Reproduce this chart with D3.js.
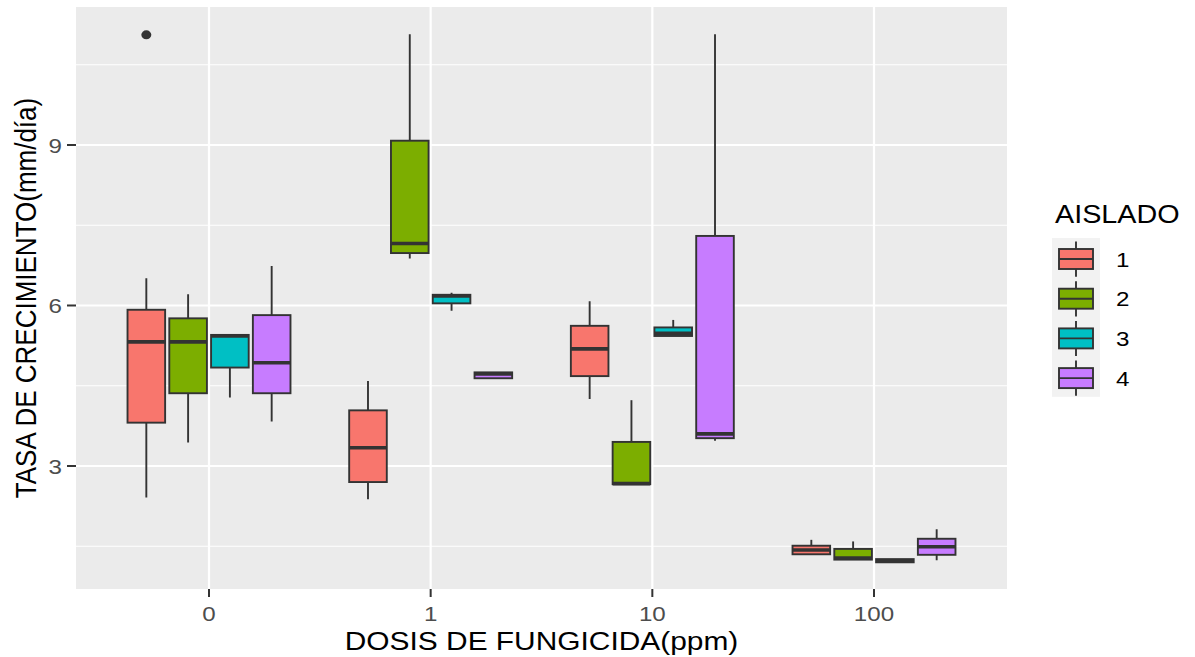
<!DOCTYPE html>
<html>
<head>
<meta charset="utf-8">
<script src="https://cdn.jsdelivr.net/npm/d3@7"></script>
<style>
  body { margin: 0; background: #fff; }
  svg { display: block; font-family: "Liberation Sans", Arial, sans-serif; }
</style>
</head>
<body>
<svg id="chart" width="1195" height="657"></svg>
<script>
// dosis categories and aislado groups
const dosis = ["0", "1", "10", "100"];
const aislados = ["1", "2", "3", "4"];
const colors = ["#F8766D", "#7CAE00", "#00BFC4", "#C77CFF"];

// box stats per dosis: [lower whisker, q1, median, q3, upper whisker]
const aislado1 = [[2.41, 3.81, 5.32, 5.92, 6.51], [2.38, 2.70, 3.34, 4.04, 4.59], [4.25, 4.68, 5.19, 5.62, 6.08], [1.35, 1.35, 1.43, 1.51, 1.62]];
const aislado2 = [[3.44, 4.36, 5.32, 5.76, 6.21], [6.88, 6.98, 7.16, 9.08, 11.07], [2.66, 2.66, 2.67, 3.45, 4.23], [1.25, 1.25, 1.28, 1.45, 1.59]];
const aislado3 = [[4.28, 4.84, 5.43, 5.45, 5.45], [5.90, 6.04, 6.18, 6.20, 6.24], [5.43, 5.43, 5.48, 5.59, 5.73], [1.20, 1.20, 1.22, 1.26, 1.26]];
const aislado4 = [[3.83, 4.36, 4.93, 5.82, 6.74], [4.64, 4.64, 4.72, 4.75, 4.75], [3.47, 3.52, 3.60, 7.30, 11.07], [1.24, 1.34, 1.49, 1.64, 1.82]];
const outliers = [{dosis: "0", aislado: 0, value: 11.06}];

const yTicks = [3, 6, 9];
const yMinor = [1.5, 4.5, 7.5, 10.5];

const series = [aislado1, aislado2, aislado3, aislado4];
const boxes = [];
series.forEach((s, g) => s.forEach((v, i) => boxes.push({dosis: dosis[i], g: g, lo: v[0], q1: v[1], med: v[2], q3: v[3], hi: v[4]})));

const svg = d3.select("#chart");
const panel = {left: 76, right: 1007, top: 7, bottom: 589};
const stretch = 1.15; // horizontal text stretch of the original picture

const x = d3.scalePoint().domain(dosis).range([panel.left, panel.right]).padding(0.6);
const y = d3.scaleLinear().domain([0.701, 11.579]).range([panel.bottom, panel.top]);
const slot = x.step() * 0.1885;
const boxW = slot * 0.9;
const bx = d => x(d.dosis) + (d.g - 1.5) * slot;

// panel background and grid
svg.append("rect")
    .attr("x", panel.left).attr("y", panel.top)
    .attr("width", panel.right - panel.left).attr("height", panel.bottom - panel.top)
    .attr("fill", "#EBEBEB");

const grid = svg.append("g");
grid.selectAll(".minor").data(yMinor).enter().append("line")
    .attr("x1", panel.left).attr("x2", panel.right)
    .attr("y1", d => y(d)).attr("y2", d => y(d))
    .attr("stroke", "#fff").attr("stroke-width", 1.1);
grid.selectAll(".major").data(yTicks).enter().append("line")
    .attr("x1", panel.left).attr("x2", panel.right)
    .attr("y1", d => y(d)).attr("y2", d => y(d))
    .attr("stroke", "#fff").attr("stroke-width", 2.2);
grid.selectAll(".vx").data(dosis).enter().append("line")
    .attr("x1", d => x(d)).attr("x2", d => x(d))
    .attr("y1", panel.top).attr("y2", panel.bottom)
    .attr("stroke", "#fff").attr("stroke-width", 2.2);

// boxplots
const boxG = svg.append("g");
boxG.selectAll(".whisk").data(boxes).enter().append("path")
    .attr("d", d => `M${bx(d)},${y(d.hi)}V${y(d.q3)}M${bx(d)},${y(d.q1)}V${y(d.lo)}`)
    .attr("stroke", "#333").attr("stroke-width", 1.9);
boxG.selectAll(".box").data(boxes).enter().append("rect")
    .attr("x", d => bx(d) - boxW / 2)
    .attr("y", d => y(d.q3))
    .attr("width", boxW)
    .attr("height", d => Math.max(y(d.q1) - y(d.q3), 0.5))
    .attr("fill", d => colors[d.g])
    .attr("stroke", "#333").attr("stroke-width", 1.9);
boxG.selectAll(".med").data(boxes).enter().append("line")
    .attr("x1", d => bx(d) - boxW / 2).attr("x2", d => bx(d) + boxW / 2)
    .attr("y1", d => y(d.med)).attr("y2", d => y(d.med))
    .attr("stroke", "#333").attr("stroke-width", 3.6);
boxG.selectAll(".out").data(outliers).enter().append("ellipse")
    .attr("cx", d => x(d.dosis) + (d.aislado - 1.5) * slot)
    .attr("cy", d => y(d.value))
    .attr("rx", 5).attr("ry", 4.4)
    .attr("fill", "#333");

// axes ticks
const axisG = svg.append("g");
axisG.selectAll(".yt").data(yTicks).enter().append("line")
    .attr("x1", panel.left - 9).attr("x2", panel.left)
    .attr("y1", d => y(d)).attr("y2", d => y(d))
    .attr("stroke", "#333").attr("stroke-width", 2);
axisG.selectAll(".xt").data(dosis).enter().append("line")
    .attr("x1", d => x(d)).attr("x2", d => x(d))
    .attr("y1", panel.bottom).attr("y2", panel.bottom + 8)
    .attr("stroke", "#333").attr("stroke-width", 2);

axisG.selectAll(".yl").data(yTicks).enter().append("text")
    .attr("transform", d => `translate(${panel.left - 14},${y(d)}) scale(${stretch},1)`)
    .attr("dy", "0.36em")
    .attr("text-anchor", "end")
    .attr("font-size", 21).attr("fill", "#4D4D4D")
    .text(d => d);
axisG.selectAll(".xl").data(dosis).enter().append("text")
    .attr("transform", d => `translate(${x(d)},${panel.bottom + 32}) scale(${stretch},1)`)
    .attr("text-anchor", "middle")
    .attr("font-size", 21).attr("fill", "#4D4D4D")
    .text(d => d);

// axis titles
svg.append("text")
    .attr("transform", `translate(${(panel.left + panel.right) / 2},${650}) scale(${stretch},1)`)
    .attr("text-anchor", "middle")
    .attr("font-size", 26).attr("fill", "#000")
    .text("DOSIS DE FUNGICIDA(ppm)");
svg.append("text")
    .attr("transform", `translate(36,${(panel.top + panel.bottom) / 2}) scale(${stretch},1) rotate(-90)`)
    .attr("text-anchor", "middle")
    .attr("font-size", 26).attr("fill", "#000")
    .text("TASA DE CRECIMIENTO(mm/día)");

// legend
const legend = svg.append("g").attr("transform", "translate(1052,238)");
const keyH = 39.7, keyW = 48;
legend.append("text")
    .attr("transform", `translate(3,-15) scale(${stretch},1)`)
    .attr("font-size", 25).attr("fill", "#000")
    .text("AISLADO");
legend.append("rect")
    .attr("width", keyW).attr("height", keyH * aislados.length)
    .attr("fill", "#F2F2F2");
const keys = legend.selectAll(".key").data(aislados).enter().append("g")
    .attr("transform", (d, i) => `translate(0,${i * keyH})`);
keys.append("line")
    .attr("x1", keyW / 2).attr("x2", keyW / 2)
    .attr("y1", 3.5).attr("y2", keyH - 1)
    .attr("stroke", "#333").attr("stroke-width", 1.9);
keys.append("rect")
    .attr("x", 7).attr("y", 11).attr("width", keyW - 14).attr("height", 20)
    .attr("fill", (d, i) => colors[i])
    .attr("stroke", "#333").attr("stroke-width", 1.9);
keys.append("line")
    .attr("x1", 7).attr("x2", keyW - 7)
    .attr("y1", 21).attr("y2", 21)
    .attr("stroke", "#333").attr("stroke-width", 1.9);
keys.append("text")
    .attr("transform", `translate(${keyW + 16},${21}) scale(${stretch},1)`)
    .attr("dy", "0.36em")
    .attr("font-size", 21).attr("fill", "#000")
    .text(d => d);
</script>
</body>
</html>
